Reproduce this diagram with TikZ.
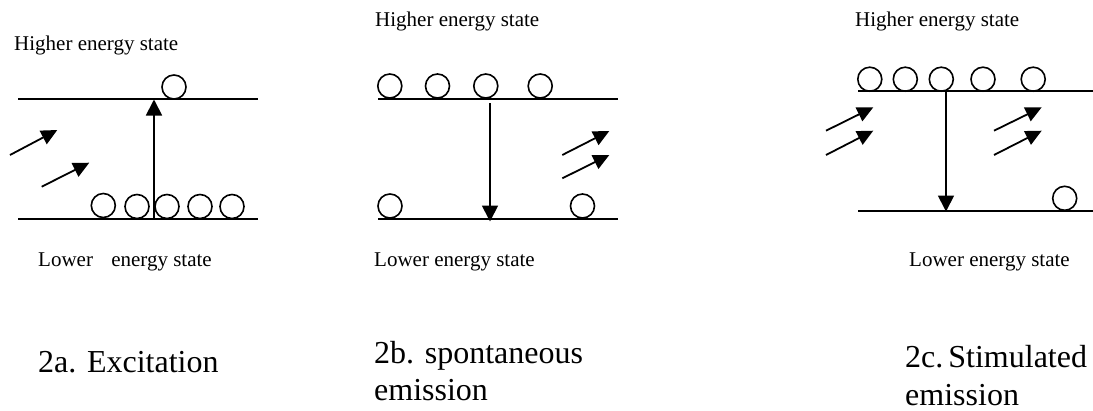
\documentclass[tikz,border=0pt]{standalone}
\usepackage{fontspec}
\setmainfont{Liberation Serif}
\usetikzlibrary{arrows.meta}
\tikzset{
  level/.style={line width=1.8pt},
  atom/.style={circle,draw,line width=1.6pt,minimum size=24pt,inner sep=0pt},
  trans/.style={line width=1.8pt,-{Triangle[length=16pt,width=16pt]}},
  photon/.style={line width=1.8pt,-{Triangle[length=16pt,width=15pt]}},
  lbl/.style={anchor=base west,inner sep=0pt,font=\fontsize{21}{25}\selectfont},
  captext/.style={anchor=base west,inner sep=0pt,align=left,font=\fontsize{32}{37}\selectfont}
}
\begin{document}
\begin{tikzpicture}[x=1pt,y=-1pt]
\useasboundingbox (0,0) rectangle (1093,410);
% ---------- panel a ----------
\coordinate (aT1) at (18,99);  \coordinate (aT2) at (258,99);
\coordinate (aB1) at (18,219); \coordinate (aB2) at (258,219);
\draw[level] (aT1) -- (aT2);
\draw[level] (aB1) -- (aB2);
\coordinate (aUs) at (154,219); \coordinate (aUe) at (154,99.5);
\draw[trans] (aUs) -- (aUe);
\node[atom] (aa0) at (174,87) {};
\node[atom] (aa1) at (103.3,205.5) {};
\node[atom] (aa2) at (137,206.5) {};
\node[atom] (aa3) at (167,206.5) {};
\node[atom] (aa4) at (200,206.5) {};
\node[atom] (aa5) at (232,206.5) {};
\coordinate (ap1s) at (10,155);   \coordinate (ap1e) at (57.3,130);
\coordinate (ap2s) at (41.7,186.7); \coordinate (ap2e) at (89.3,162.7);
\draw[photon] (ap1s) -- (ap1e);
\draw[photon] (ap2s) -- (ap2e);
\node[lbl] (ahi) at (14,50) {Higher energy state};
\node[lbl] (alo) at (38,266) {Lower\hspace{13pt} energy state};
\node[captext] (acap) at (38,372) {2a. Excitation};
% ---------- panel b ----------
\coordinate (bT1) at (378,99);  \coordinate (bT2) at (618,99);
\coordinate (bB1) at (378,219); \coordinate (bB2) at (618,219);
\draw[level] (bT1) -- (bT2);
\draw[level] (bB1) -- (bB2);
\coordinate (bDs) at (490,103); \coordinate (bDe) at (490,221.5);
\draw[trans] (bDs) -- (bDe);
\node[atom] (bb1) at (389.8,86) {};
\node[atom] (bb2) at (437.5,86) {};
\node[atom] (bb3) at (485.8,86) {};
\node[atom] (bb4) at (540.2,86) {};
\node[atom] (bb5) at (390,206) {};
\node[atom] (bb6) at (582.5,206) {};
\coordinate (bp1s) at (562.3,155);   \coordinate (bp1e) at (609.3,131);
\coordinate (bp2s) at (562.3,178.3); \coordinate (bp2e) at (609.3,155);
\draw[photon] (bp1s) -- (bp1e);
\draw[photon] (bp2s) -- (bp2e);
\node[lbl] (bhi) at (375,26.5) {Higher energy state};
\node[lbl] (blo) at (374,266) {Lower energy state};
\node[captext] (bcap) at (374,400) {2b. spontaneous\\emission};
% ---------- panel c ----------
\coordinate (cT1) at (858.3,90.7);  \coordinate (cT2) at (1093,90.7);
\coordinate (cB1) at (858.3,210.7); \coordinate (cB2) at (1093,210.7);
\draw[level] (cT1) -- (cT2);
\draw[level] (cB1) -- (cB2);
\coordinate (cDs) at (946,90.7); \coordinate (cDe) at (946,211.5);
\draw[trans] (cDs) -- (cDe);
\node[atom] (cc1) at (869.8,79.2) {};
\node[atom] (cc2) at (905.3,79.2) {};
\node[atom] (cc3) at (941.3,79.2) {};
\node[atom] (cc4) at (983,79.2) {};
\node[atom] (cc5) at (1033.2,79.2) {};
\node[atom] (cc6) at (1064.7,198.3) {};
\coordinate (cp1s) at (826,130.7); \coordinate (cp1e) at (873.3,107.3);
\coordinate (cp2s) at (826,155);   \coordinate (cp2e) at (873.3,130.7);
\coordinate (cp3s) at (994,130.7); \coordinate (cp3e) at (1041.7,107.3);
\coordinate (cp4s) at (994,155);   \coordinate (cp4e) at (1041.7,130.7);
\draw[photon] (cp1s) -- (cp1e);
\draw[photon] (cp2s) -- (cp2e);
\draw[photon] (cp3s) -- (cp3e);
\draw[photon] (cp4s) -- (cp4e);
\node[lbl] (chi) at (855,26) {Higher energy state};
\node[lbl] (clo) at (909,266) {Lower energy state};
\node[captext] (ccap) at (905,405) {2c.\hspace{5pt}Stimulated\\[1pt]emission};
\end{tikzpicture}
\end{document}
